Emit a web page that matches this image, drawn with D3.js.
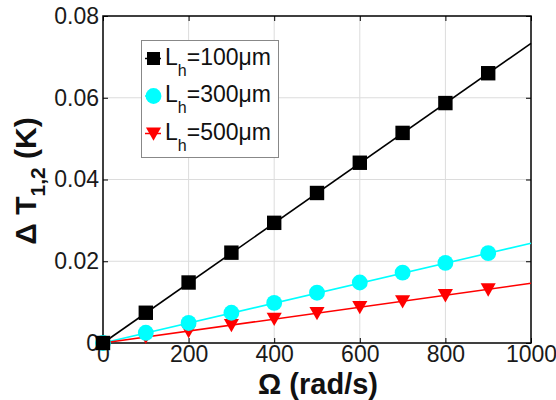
<!DOCTYPE html>
<html><head><meta charset="utf-8">
<script src="https://cdn.jsdelivr.net/npm/d3@7"></script>
<style>body{margin:0;background:#fff}svg{display:block}text{font-family:"Liberation Sans",Arial,sans-serif}</style>
</head><body><svg id="c" width="556" height="400"></svg>
<script>
const omega = [0,100,200,300,400,500,600,700,800,900];
const lh100 = [0,0.0074,0.0148,0.0221,0.0294,0.0367,0.0441,0.0514,0.0587,0.066];
const lh300 = [0,0.0025,0.0049,0.0074,0.0098,0.0123,0.0148,0.0172,0.0196,0.0220];
const lh500 = [0,0.0015,0.0029,0.0044,0.0059,0.0073,0.0088,0.0102,0.0117,0.0131];
const fitX = [0,1000];
const fit100 = [0,0.0733];
const fit300 = [0,0.0244];
const fit500 = [0,0.0146];
const xTicks = [0,200,400,600,800,1000];
const xTickLabels = ["0","200","400","600","800","1000"];
const yTicks = [0,0.02,0.04,0.06,0.08];
const yTickLabels = ["0","0.02","0.04","0.06","0.08"];
const labels = ["100μm","300μm","500μm"];

const svg = d3.select("#c");
const L=103,R=531,T=16,B=343;
const x = d3.scaleLinear().domain([0,1000]).range([L,R]);
const y = d3.scaleLinear().domain([0,0.08]).range([B,T]);

// grid
svg.append("g").selectAll("line").data(xTicks.slice(1,-1)).join("line")
 .attr("x1",d=>x(d)).attr("x2",d=>x(d)).attr("y1",T).attr("y2",B).attr("stroke","#dcdcdc").attr("stroke-width",1);
svg.append("g").selectAll("line").data(yTicks.slice(1,-1)).join("line")
 .attr("y1",d=>y(d)).attr("y2",d=>y(d)).attr("x1",L).attr("x2",R).attr("stroke","#dcdcdc").attr("stroke-width",1);

// axes
const xa = svg.append("g").attr("transform",`translate(0,${B})`).call(d3.axisBottom(x).tickValues(xTicks).tickFormat((d,i)=>xTickLabels[i]).tickSizeInner(-5).tickSizeOuter(0).tickPadding(3));
const xt = svg.append("g").attr("transform",`translate(0,${T})`).call(d3.axisTop(x).tickValues(xTicks).tickSizeInner(-5).tickSizeOuter(0).tickFormat(""));
const ya = svg.append("g").attr("transform",`translate(${L},0)`).call(d3.axisLeft(y).tickValues(yTicks).tickFormat((d,i)=>yTickLabels[i]).tickSizeInner(-5).tickSizeOuter(0).tickPadding(4));
const yr = svg.append("g").attr("transform",`translate(${R},0)`).call(d3.axisRight(y).tickValues(yTicks).tickSizeInner(-5).tickSizeOuter(0).tickFormat(""));
[xa,xt,ya,yr].forEach(g=>{g.select(".domain").remove();g.selectAll("line").attr("stroke","#000");g.selectAll("text").style("font-size","23px").attr("fill","#1a1a1a");});
xa.selectAll("text").attr("dy","0.71em");
svg.append("rect").attr("x",L).attr("y",T).attr("width",R-L).attr("height",B-T).attr("fill","none").attr("stroke","#000").attr("stroke-width",1.5);

// fit lines
const line = d3.line().x(d=>x(d[0])).y(d=>y(d[1]));
const series = [
 {v:lh100,f:fit100,c:"#000000",m:"square"},
 {v:lh300,f:fit300,c:"#00ffff",m:"circle"},
 {v:lh500,f:fit500,c:"#ff0000",m:"tri"}
];
function marker(g,m,c,cx,cy,s){
 if(m==="square") g.append("rect").attr("x",cx-s).attr("y",cy-s).attr("width",2*s).attr("height",2*s).attr("fill",c);
 else if(m==="circle") g.append("circle").attr("cx",cx).attr("cy",cy).attr("r",s*1.1).attr("fill",c);
 else g.append("path").attr("d",`M${cx-s*1.05},${cy-s*0.85}L${cx+s*1.05},${cy-s*0.85}L${cx},${cy+s*1.0}Z`).attr("fill",c);
}
series.forEach(s=>{
 svg.append("path").datum(fitX.map((d,i)=>[d,s.f[i]])).attr("d",line).attr("fill","none").attr("stroke",s.c).attr("stroke-width",1.6);
});
series.slice().reverse().forEach(s=>{
 const g = svg.append("g");
 omega.forEach((o,i)=>marker(g,s.m,s.c,x(o),y(s.v[i]),7.2));
});

// legend
const lg = svg.append("g");
lg.append("rect").attr("x",141.5).attr("y",40.5).attr("width",137).attr("height",117).attr("fill","#fff").attr("stroke","#888").attr("stroke-width",1);
const ly=[58.5,96,133.5];
series.forEach((s,i)=>{
 lg.append("line").attr("x1",145).attr("x2",161).attr("y1",ly[i]).attr("y2",ly[i]).attr("stroke",s.c).attr("stroke-width",1.5);
 marker(lg,s.m,s.c,153.5,ly[i],s.m==="square"?6.5:7.2);
 const t = lg.append("text").attr("x",165).attr("y",ly[i]+6).style("font-size","23px").attr("fill","#111");
 t.append("tspan").text("L");
 t.append("tspan").style("font-size","16px").attr("dy",11).text("h");
 t.append("tspan").attr("dy",-11).text("="+labels[i]);
});

// axis titles
svg.append("text").attr("x",318).attr("y",394).attr("text-anchor","middle").style("font-size","29px").attr("font-weight","bold").attr("fill","#111").text("Ω (rad/s)");
const yt = svg.append("text").attr("transform","translate(36,181) rotate(-90)").attr("text-anchor","middle").style("font-size","30px").attr("font-weight","bold").attr("fill","#111");
yt.append("tspan").text("Δ T");
yt.append("tspan").style("font-size","21px").attr("dy",9).text("1,2");
yt.append("tspan").attr("dy",-9).text(" (K)");
</script></body></html>
